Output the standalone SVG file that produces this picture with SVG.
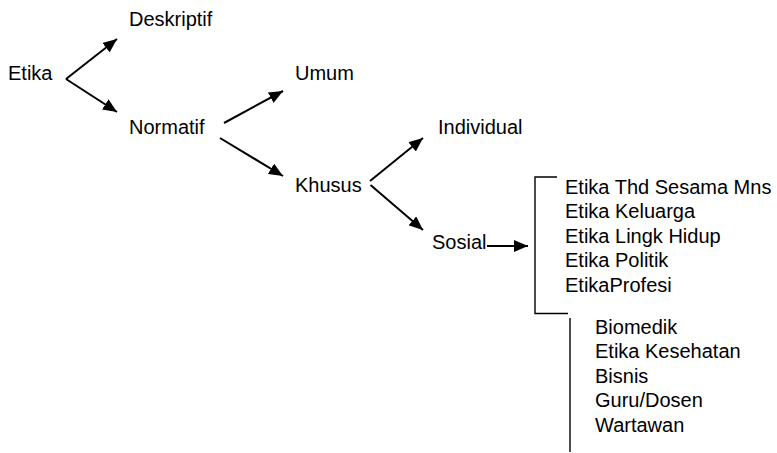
<svg xmlns="http://www.w3.org/2000/svg" width="777" height="453" viewBox="0 0 777 453">
<style>
text{font-family:"Liberation Sans",Arial,sans-serif;font-size:20px;fill:#000}
.c{stroke:#000;stroke-width:2;fill:none}
.b{stroke:#000;stroke-width:1.4;fill:none}
</style>
<defs>
<marker id="ah" markerUnits="userSpaceOnUse" markerWidth="14" markerHeight="12" refX="14" refY="6" orient="auto" viewBox="0 0 14 12">
<path d="M0,0 L14,6 L0,12 z" fill="#000"/>
</marker>
</defs>
<rect width="777" height="453" fill="#fff"/>
<g id="connectors">
<line class="c" x1="66" y1="79" x2="117" y2="39" marker-end="url(#ah)"/>
<line class="c" x1="66" y1="79" x2="117" y2="112" marker-end="url(#ah)"/>
<line class="c" x1="224" y1="123" x2="283" y2="91" marker-end="url(#ah)"/>
<line class="c" x1="220" y1="138" x2="283" y2="176" marker-end="url(#ah)"/>
<line class="c" x1="370" y1="181" x2="423" y2="138" marker-end="url(#ah)"/>
<line class="c" x1="370.5" y1="185" x2="423" y2="230" marker-end="url(#ah)"/>
<line class="c" x1="487" y1="246" x2="528" y2="246" marker-end="url(#ah)"/>
<path class="b" d="M557,177 H535 V313.5 H568"/>
<path class="b" d="M570,318 V452"/>
</g>
<g id="etika"><text x="8" y="80">Etika</text></g>
<g id="deskriptif"><text x="129" y="26">Deskriptif</text></g>
<g id="normatif"><text x="129" y="133.5">Normatif</text></g>
<g id="umum"><text x="295" y="80">Umum</text></g>
<g id="khusus"><text x="295" y="191.5">Khusus</text></g>
<g id="individual"><text x="438" y="134">Individual</text></g>
<g id="sosial"><text x="432" y="249">Sosial</text></g>
<g id="sosial-list">
<text x="565" y="193.5">Etika Thd Sesama Mns</text>
<text x="565" y="218">Etika Keluarga</text>
<text x="565" y="242.5">Etika Lingk Hidup</text>
<text x="565" y="267">Etika Politik</text>
<text x="565" y="291.5">EtikaProfesi</text>
</g>
<g id="profesi-list">
<text x="595" y="333.5">Biomedik</text>
<text x="595" y="358">Etika Kesehatan</text>
<text x="595" y="382.5">Bisnis</text>
<text x="595" y="407">Guru/Dosen</text>
<text x="595" y="431.5">Wartawan</text>
</g>
</svg>
